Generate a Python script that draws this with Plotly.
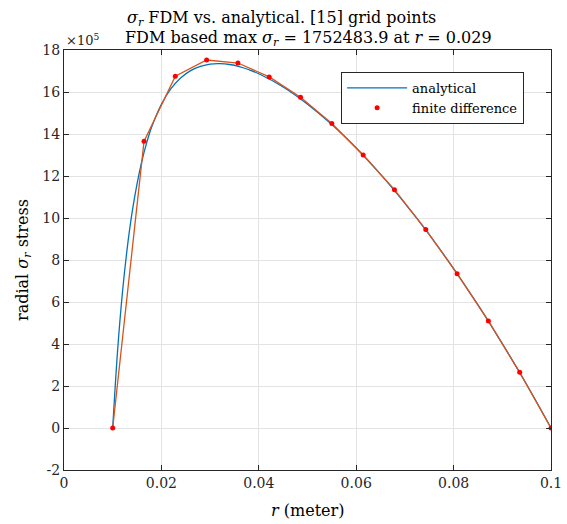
import plotly.graph_objects as go

# FDM grid points (15) and values (x1e5)
r_fdm = [0.01, 0.016429, 0.022857, 0.029286, 0.035714, 0.042143, 0.048571, 0.055,
         0.061429, 0.067857, 0.074286, 0.080714, 0.087143, 0.093571, 0.1]
s_fdm = [0.0, 13.65, 16.75, 17.525, 17.38, 16.72, 15.75, 14.5,
         13.0, 11.35, 9.45, 7.35, 5.1, 2.65, 0.0]

# analytical curve (x1e5)
r_an = [0.010, 0.011, 0.012, 0.013, 0.014, 0.015, 0.016, 0.017, 0.018, 0.020, 0.022,
        0.024, 0.026, 0.028, 0.030, 0.032, 0.034, 0.036, 0.038, 0.040, 0.045, 0.050,
        0.055, 0.060, 0.065, 0.070, 0.075, 0.080, 0.085, 0.090, 0.095, 0.100]
s_an = [0.0, 3.67, 6.45, 8.60, 10.29, 11.63, 12.72, 13.60, 14.33, 15.42, 16.17,
        16.68, 17.02, 17.22, 17.33, 17.35, 17.31, 17.21, 17.06, 16.87, 16.24, 15.42,
        14.45, 13.33, 12.08, 10.70, 9.21, 7.59, 5.86, 4.02, 2.07, 0.0]

x_ticks = [0, 0.02, 0.04, 0.06, 0.08, 0.1]
x_labels = ["0", "0.02", "0.04", "0.06", "0.08", "0.1"]
y_ticks = [-2, 0, 2, 4, 6, 8, 10, 12, 14, 16, 18]
y_labels = ["-2", "0", "2", "4", "6", "8", "10", "12", "14", "16", "18"]

FONT = "DejaVu Serif, Liberation Serif, serif"
AX = "#262626"

fig = go.Figure()
fig.add_trace(go.Scatter(x=r_an, y=s_an, mode="lines", name="analytical",
                         line=dict(color="#0072BD", width=1.3), line_shape="spline"))
fig.add_trace(go.Scatter(x=r_fdm, y=s_fdm, mode="lines", showlegend=False,
                         line=dict(color="#D95319", width=1.3)))
fig.add_trace(go.Scatter(x=r_fdm, y=s_fdm, mode="markers", name="finite difference",
                         marker=dict(color="#FF0000", size=5)))

axis_common = dict(showline=True, linecolor=AX, linewidth=1, mirror="ticks",
                   ticks="inside", ticklen=5, tickcolor=AX, automargin=False,
                   showgrid=True, gridcolor="#e3e3e3", gridwidth=1,
                   zeroline=False, tickfont=dict(family=FONT, size=14, color=AX))

fig.update_layout(
    width=567, height=524,
    margin=dict(l=64, r=16, t=50, b=54),
    paper_bgcolor="white", plot_bgcolor="white",
    font=dict(family=FONT, color="#000000"),
    xaxis=dict(range=[0, 0.1], tickvals=x_ticks, ticktext=x_labels, **axis_common),
    yaxis=dict(range=[-2, 18], tickvals=y_ticks, ticktext=y_labels, **axis_common),
    legend=dict(x=0.569, y=0.948, xanchor="left", yanchor="top",
                bgcolor="white", bordercolor="#262626", borderwidth=1,
                font=dict(family=FONT, size=13, color="#000000"),
                itemwidth=60, tracegroupgap=0),
    showlegend=True,
)
ann = dict(showarrow=False, font=dict(family=FONT, size=16, color="#000000"))
fig.add_annotation(text="<i>σ<sub>r</sub></i> FDM vs. analytical. [15] grid points",
                   xref="paper", yref="paper", x=(125 - 64) / 487, y=1.0 + 32 / 420,
                   xanchor="left", yanchor="middle", **ann)
fig.add_annotation(text="FDM based max <i>σ<sub>r</sub></i> = 1752483.9 at <i>r</i> = 0.029",
                   xref="paper", yref="paper", x=(123 - 64) / 487, y=1.0 + 12 / 420,
                   xanchor="left", yanchor="middle", **ann)
fig.add_annotation(text="<i>r</i> (meter)", xref="paper", yref="paper",
                   x=0.5, y=-40 / 420, xanchor="center", yanchor="middle", **ann)
fig.add_annotation(text="radial <i>σ<sub>r</sub></i> stress", xref="paper", yref="paper",
                   x=-41 / 487, y=0.5, xanchor="center", yanchor="middle", textangle=-90, **ann)
fig.add_annotation(text="×10<sup>5</sup>", xref="paper", yref="paper", x=0.0, y=1.0,
                   xanchor="left", yanchor="bottom", showarrow=False,
                   font=dict(family=FONT, size=13, color=AX))
fig.write_html("out.html", config={"displayModeBar": False},
               post_script="document.body.style.margin='0';")
